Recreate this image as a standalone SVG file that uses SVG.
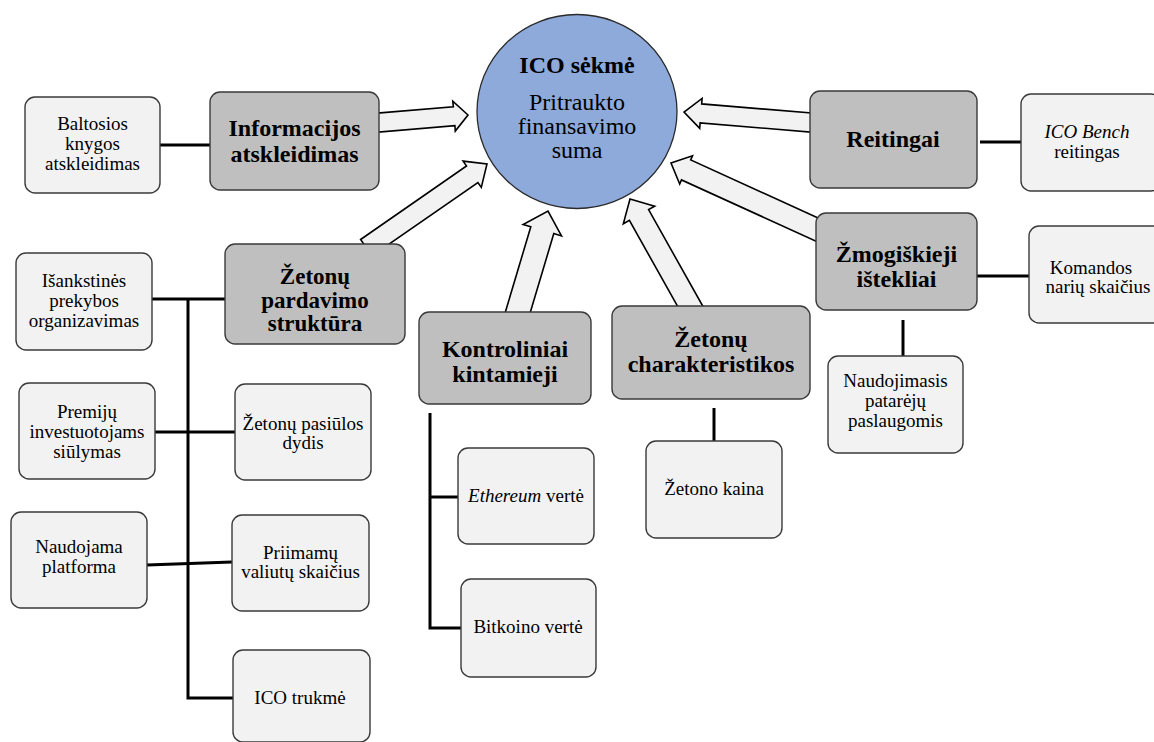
<svg xmlns="http://www.w3.org/2000/svg" width="1154" height="742" viewBox="0 0 1154 742">
  <style>
    .main { fill: #bfbfbf; stroke: #3a3a3a; stroke-width: 1.4; }
    .sub { fill: #f2f2f2; stroke: #3a3a3a; stroke-width: 1.4; }
    .link { fill: none; stroke: #000; stroke-width: 3; }
    .arrow { fill: #f2f2f2; stroke: #000; stroke-width: 1.6; stroke-linejoin: miter; }
    text { font-family: "Liberation Serif", Tinos, "DejaVu Serif", "Times New Roman", serif; fill: #000; text-anchor: middle; }
    .hd { font-weight: bold; font-size: 24px; }
    .hs { font-weight: bold; font-size: 23px; }
    .tx { font-size: 19px; }
    .big { font-size: 24px; }
  </style>
  <rect width="1154" height="742" fill="#fff"/>

  <!-- connectors: block arrows into the centre and tree lines to sub-factors -->
  <g id="connectors">
    <polygon class="arrow" points="371.2,113.6 453.3,106.7 452.8,101.2 468,115 455.3,131.1 454.9,125.7 372.8,132.6"/>
    <polygon class="arrow" points="360.6,239.5 466.5,166.0 463.1,161.1 487,164 481.3,187.4 477.9,182.5 372.0,255.9"/>
    <polygon class="arrow" points="504.1,316.2 530.8,226.8 523.1,224.5 548,211 561.5,235.9 553.8,233.6 527.1,323.0"/>
    <polygon class="arrow" points="684.8,319.1 629.4,220.4 623.3,223.8 630,199 654.7,206.2 648.6,209.6 704.0,308.3"/>
    <polygon class="arrow" points="830.7,223.7 690.7,159.9 692.5,155.8 671,163 679.7,184.0 681.5,179.9 821.5,243.7"/>
    <polygon class="arrow" points="820.8,113.8 701.7,103.9 702.1,98.4 684,112 699.7,128.4 700.1,122.9 819.2,132.8"/>

    <line class="link" x1="160" y1="145" x2="210" y2="145"/>
    <line class="link" x1="980" y1="142" x2="1021" y2="142"/>
    <line class="link" x1="977" y1="276" x2="1029" y2="276"/>
    <line class="link" x1="903" y1="320" x2="903" y2="356"/>
    <line class="link" x1="714" y1="408" x2="714" y2="441"/>

    <line class="link" x1="152" y1="299" x2="225" y2="299"/>
    <polyline class="link" points="188,299 188,698 233,698"/>
    <line class="link" x1="155" y1="432" x2="235" y2="432"/>
    <line class="link" x1="147" y1="565" x2="232" y2="562"/>

    <polyline class="link" points="430,413 430,628 461,628"/>
    <line class="link" x1="430" y1="497" x2="458" y2="497"/>
  </g>

  <!-- centre: outcome -->
  <g id="ico-success">
    <ellipse cx="577" cy="111.5" rx="100" ry="97" fill="#8eaadb" stroke="#2a2a2a" stroke-width="1.3"/>
    <text class="hd" x="577" y="73">ICO sėkmė</text>
    <text class="big" x="577" y="110">Pritraukto</text>
    <text class="big" x="577" y="134">finansavimo</text>
    <text class="big" x="577" y="158">suma</text>
  </g>

  <!-- factor groups -->
  <g id="informacijos">
    <rect class="main" x="210" y="92" width="169" height="98" rx="10"/>
    <text class="hd" x="294.5" y="136">Informacijos</text>
    <text class="hd" x="294.5" y="162">atskleidimas</text>
  </g>
  <g id="baltosios">
    <rect class="sub" x="25" y="97" width="135" height="96" rx="10"/>
    <text class="tx" x="92.5" y="130">Baltosios</text>
    <text class="tx" x="92.5" y="150">knygos</text>
    <text class="tx" x="92.5" y="170">atskleidimas</text>
  </g>

  <g id="reitingai">
    <rect class="main" x="810" y="91" width="167" height="97" rx="10"/>
    <text class="hd" x="893" y="147">Reitingai</text>
  </g>
  <g id="ico-bench">
    <rect class="sub" x="1021" y="94" width="140" height="97" rx="10"/>
    <text class="tx" x="1087" y="138"><tspan font-style="italic">ICO Bench</tspan></text>
    <text class="tx" x="1087" y="158">reitingas</text>
  </g>

  <g id="zmogiskieji">
    <rect class="main" x="816" y="213" width="161" height="97" rx="10"/>
    <text class="hd" x="896.5" y="262">Žmogiškieji</text>
    <text class="hd" x="896.5" y="287">ištekliai</text>
  </g>
  <g id="komandos">
    <rect class="sub" x="1029" y="226" width="140" height="97" rx="10"/>
    <text class="tx" x="1091" y="274">Komandos</text>
    <text class="tx" x="1098" y="293">narių skaičius</text>
  </g>
  <g id="patarejai">
    <rect class="sub" x="828" y="356" width="135" height="97" rx="10"/>
    <text class="tx" x="895.5" y="387">Naudojimasis</text>
    <text class="tx" x="895.5" y="407">patarėjų</text>
    <text class="tx" x="895.5" y="427">paslaugomis</text>
  </g>

  <g id="pardavimo">
    <rect class="main" x="225" y="244" width="180" height="100" rx="10"/>
    <text class="hs" x="315" y="284">Žetonų</text>
    <text class="hs" x="315" y="308">pardavimo</text>
    <text class="hs" x="315" y="331">struktūra</text>
  </g>
  <g id="isankstines">
    <rect class="sub" x="16" y="253" width="136" height="97" rx="10"/>
    <text class="tx" x="84" y="287">Išankstinės</text>
    <text class="tx" x="84" y="307">prekybos</text>
    <text class="tx" x="84" y="327">organizavimas</text>
  </g>
  <g id="premiju">
    <rect class="sub" x="19" y="383" width="136" height="96" rx="10"/>
    <text class="tx" x="87" y="418">Premijų</text>
    <text class="tx" x="87" y="438">investuotojams</text>
    <text class="tx" x="87" y="458">siūlymas</text>
  </g>
  <g id="pasiulos">
    <rect class="sub" x="235" y="384" width="136" height="96" rx="10"/>
    <text class="tx" x="303" y="430">Žetonų pasiūlos</text>
    <text class="tx" x="303" y="449">dydis</text>
  </g>
  <g id="platforma">
    <rect class="sub" x="11" y="512" width="136" height="96" rx="10"/>
    <text class="tx" x="79" y="553">Naudojama</text>
    <text class="tx" x="79" y="573">platforma</text>
  </g>
  <g id="valiutu">
    <rect class="sub" x="232" y="515" width="137" height="96" rx="10"/>
    <text class="tx" x="300.5" y="559">Priimamų</text>
    <text class="tx" x="300.5" y="578">valiutų skaičius</text>
  </g>
  <g id="trukme">
    <rect class="sub" x="233" y="650" width="137" height="92" rx="10"/>
    <text class="tx" x="300" y="704">ICO trukmė</text>
  </g>

  <g id="kontroliniai">
    <rect class="main" x="419" y="312" width="172" height="92" rx="10"/>
    <text class="hd" x="505" y="357">Kontroliniai</text>
    <text class="hd" x="505" y="382">kintamieji</text>
  </g>
  <g id="ethereum">
    <rect class="sub" x="458" y="448" width="136" height="96" rx="10"/>
    <text class="tx" x="526" y="502"><tspan font-style="italic">Ethereum</tspan> vertė</text>
  </g>
  <g id="bitkoino">
    <rect class="sub" x="461" y="579" width="135" height="98" rx="10"/>
    <text class="tx" x="528" y="633">Bitkoino vertė</text>
  </g>

  <g id="charakteristikos">
    <rect class="main" x="612" y="306" width="198" height="93" rx="10"/>
    <text class="hd" x="711" y="347">Žetonų</text>
    <text class="hd" x="711" y="372">charakteristikos</text>
  </g>
  <g id="kaina">
    <rect class="sub" x="646" y="441" width="136" height="97" rx="10"/>
    <text class="tx" x="714" y="495">Žetono kaina</text>
  </g>
</svg>
